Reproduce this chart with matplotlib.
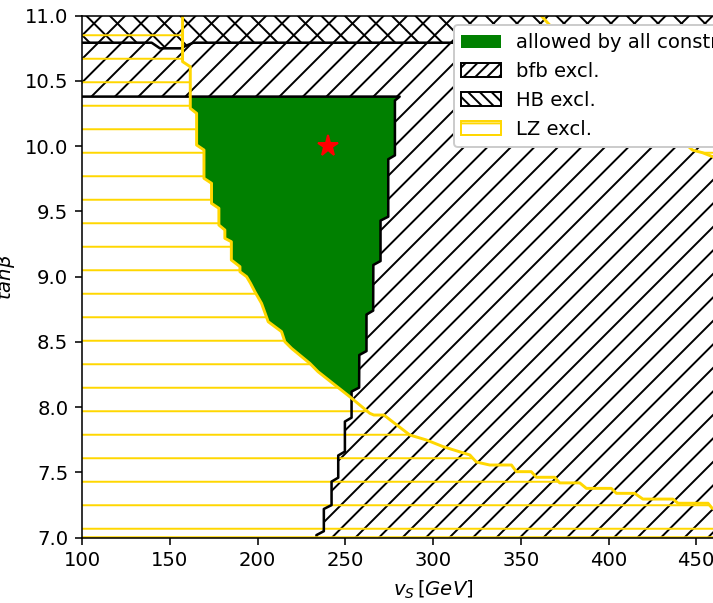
import matplotlib.pyplot as plt
from matplotlib.patches import Patch

# bfb exclusion boundary (region above / right of it is excluded)
bfb_x = [100, 281.0, 278.3, 278.3, 274.5, 274.5, 270.1, 270.1, 266.0, 265.9,
         262.1, 262.1, 258.0, 257.9, 253.6, 253.6, 249.8, 249.8, 246.0, 246.0,
         242.2, 242.2, 237.8, 237.8, 233.6, 233.6]
bfb_y = [10.38, 10.38, 10.35, 9.93, 9.90, 9.46, 9.43, 9.12, 9.09, 8.74,
         8.71, 8.43, 8.40, 8.15, 8.12, 7.92, 7.89, 7.66, 7.63, 7.46,
         7.43, 7.25, 7.22, 7.05, 7.02, 7.0]

# HB exclusion boundary (region above it is excluded)
hb_x = [100, 139.7, 144.4, 156.5, 158.5, 163.4, 500]
hb_y = [10.793, 10.793, 10.75, 10.75, 10.765, 10.793, 10.793]

# LZ exclusion boundary, lower-left region
lz_x = [157.3, 157.3, 161.7, 161.7, 165.3, 165.3, 169.5, 169.5, 173.8, 173.8,
        178.0, 178.0, 181.4, 181.4, 185.1, 185.1, 190.0, 190.0, 193.8, 196.0,
        198.5, 202.3, 206.1, 213.7, 215.6, 219.4, 229.8, 234.5, 252.6, 264.0,
        266.3, 272.0, 286.8, 296.2, 305.7, 321.0, 324.7, 332.3, 344.7, 347.5,
        356.0, 358.9, 369.3, 372.2, 383.6, 387.4, 401.6, 404.5, 414.9, 419.6,
        436.7, 439.6, 456.7, 459.1, 478.0, 500]
lz_y = [11.0, 10.648, 10.609, 10.29, 10.252, 10.009, 9.971, 9.754, 9.716, 9.562,
        9.524, 9.396, 9.358, 9.294, 9.268, 9.128, 9.077, 9.038, 9.0, 8.95,
        8.885, 8.796, 8.655, 8.579, 8.502, 8.451, 8.336, 8.272, 8.08, 7.953,
        7.94, 7.94, 7.787, 7.749, 7.698, 7.634, 7.58, 7.557, 7.557, 7.506,
        7.506, 7.463, 7.463, 7.42, 7.42, 7.378, 7.378, 7.34, 7.34, 7.296,
        7.296, 7.264, 7.264, 7.225, 7.18, 7.13]

# LZ exclusion boundary, upper-right region
lz2_x = [361.6, 366.4, 390.0, 420.0, 447.9, 453.6, 459.3, 480.0, 500]
lz2_y = [11.0, 10.93, 10.65, 10.30, 9.97, 9.95, 9.92, 9.75, 9.60]

bench_x, bench_y = 240, 10.0
xlim = (100, 500)
ylim = (7.0, 11.0)

dpi = 141
fig = plt.figure(figsize=(713 / dpi, 603 / dpi), dpi=dpi)
# axes run past the right edge: the picture is a crop of a wider plot
ax = fig.add_axes([82 / 713, 65.3 / 603, 702 / 713, 522 / 603])

# allowed region: between LZ line (left) and bfb staircase (right), below bfb top
right = [(x, y) for x, y in zip(bfb_x, bfb_y) if x > 200 and y >= 8.1]
left = [(x, y) for x, y in zip(lz_x, lz_y) if 8.08 <= y <= 10.38]
green = [(161.7, 10.38)] + right + [(253.4, 8.075)] + left[::-1]
ax.fill([p[0] for p in green], [p[1] for p in green], color='green', lw=0, zorder=1)

# hatched exclusion regions
ax.fill(bfb_x + [xlim[1], xlim[1], xlim[0]], bfb_y + [ylim[0], ylim[1], ylim[1]],
        facecolor='none', edgecolor='black', hatch='//', lw=0, zorder=1.2)
ax.fill(hb_x + [xlim[1], xlim[0]], hb_y + [ylim[1], ylim[1]],
        facecolor='none', edgecolor='black', hatch='\\\\', lw=0, zorder=1.2)
ax.fill([xlim[0]] + lz_x + [xlim[1], xlim[0]], [ylim[1]] + lz_y + [ylim[0], ylim[0]],
        facecolor='none', edgecolor='gold', hatch='-', lw=0, zorder=1.3)
ax.fill(lz2_x + [xlim[1]], lz2_y + [ylim[1]],
        facecolor='none', edgecolor='gold', hatch='-', lw=0, zorder=1.3)

# boundary lines
ax.plot(bfb_x, bfb_y, color='black', lw=1.3, zorder=1.5)
ax.plot(hb_x, hb_y, color='black', lw=1.3, zorder=1.5)
ax.plot(lz_x + [xlim[1], xlim[0]], lz_y + [ylim[0], ylim[0]], color='gold', lw=1.5, zorder=1.6)
ax.plot(lz2_x, lz2_y, color='gold', lw=1.5, zorder=1.6)

ax.plot(bench_x, bench_y, '*', color='red', markersize=11, zorder=3)

ax.set_xlim(*xlim)
ax.set_ylim(*ylim)
ax.set_xticks([100, 150, 200, 250, 300, 350, 400, 450, 500])
ax.set_yticks([7.0, 7.5, 8.0, 8.5, 9.0, 9.5, 10.0, 10.5, 11.0])
ax.set_xlabel(r'$v_S\,[GeV]$')
ax.set_ylabel(r'$tan\beta$')

handles = [
    Patch(facecolor='green', label='allowed by all constraints'),
    Patch(facecolor='white', edgecolor='black', hatch='////', label='bfb excl.'),
    Patch(facecolor='white', edgecolor='black', hatch='\\\\\\\\', label='HB excl.'),
    Patch(facecolor='white', edgecolor='gold', hatch='--', label='LZ excl.'),
]
ax.legend(handles=handles, loc='upper right', framealpha=1)

fig.savefig('out.png', dpi=dpi)
